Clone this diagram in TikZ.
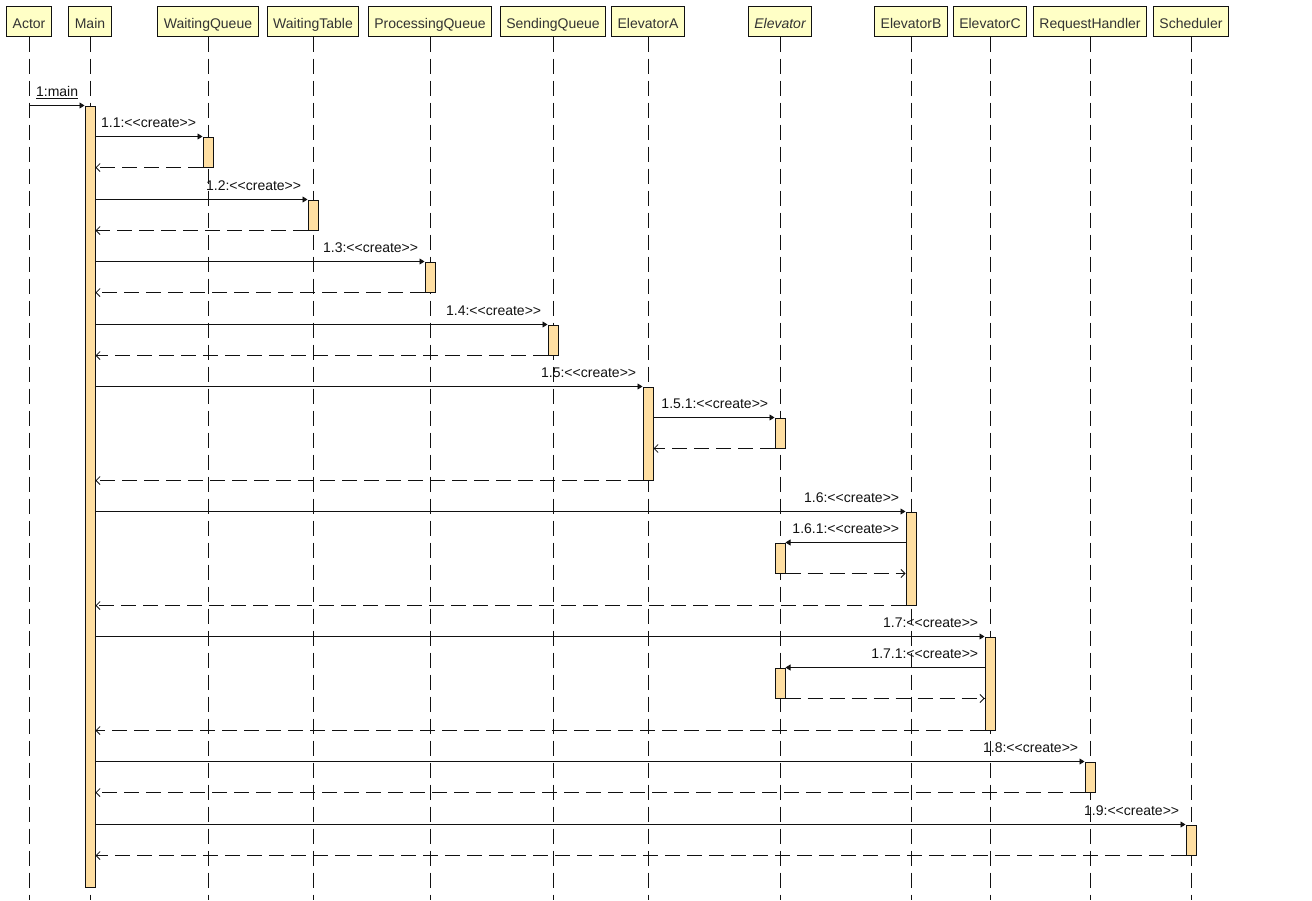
\documentclass[tikz,border=0pt]{standalone}
\usepackage{fontspec}
\setmainfont{Liberation Sans}[Ligatures=TeXOff]
\usetikzlibrary{arrows.meta}
\definecolor{ink}{HTML}{111111}
\definecolor{hdrtext}{HTML}{333333}
\definecolor{hdrbg}{HTML}{FFFFC6}
\definecolor{actbg}{HTML}{FFDFA2}
\tikzset{
  every node/.style={font=\fontsize{14}{16}\selectfont},
  hdr/.style={draw=ink, line width=1pt, fill=hdrbg, text=hdrtext, minimum height=30pt,
              inner xsep=6pt, inner ysep=0pt, text height=15pt, text depth=0pt},
  life/.style={draw=ink, line width=1pt, dash pattern=on 15pt off 7pt},
  act/.style={draw=ink, line width=1pt, fill=actbg, minimum width=10pt, inner sep=0pt},
  msg/.style={-{Triangle[length=5pt, width=6pt]}, line width=0.8pt, draw=ink},
  ret/.style={-{Straight Barb[length=4pt, width=8pt]}, line width=0.8pt, draw=ink,
              dash pattern=on 15pt off 7pt},
  lbl/.style={text=ink, inner sep=0pt, anchor=base east, xshift=-6pt, yshift=9pt},
}

\begin{document}
\begin{tikzpicture}[x=1pt, y=-1pt]
\useasboundingbox (0,0) rectangle (1312,900);

% lifeline heads
\node[hdr] (actor) at (29,21) {Actor};
\node[hdr] (main) at (90,21) {Main};
\node[hdr] (wq) at (208,21) {WaitingQueue};
\node[hdr] (wt) at (313,21) {WaitingTable};
\node[hdr] (pq) at (430,21) {ProcessingQueue};
\node[hdr] (sq) at (553,21) {SendingQueue};
\node[hdr] (ea) at (648,21) {ElevatorA};
\node[hdr] (elev) at (780,21) {\itshape Elevator};
\node[hdr] (eb) at (911,21) {ElevatorB};
\node[hdr] (ec) at (990,21) {ElevatorC};
\node[hdr] (rh) at (1090,21) {RequestHandler};
\node[hdr] (sch) at (1191,21) {Scheduler};

\foreach \n in {actor,main,wq,wt,pq,sq,ea,elev,eb,ec,rh,sch}
  \draw[life] (\n.south) -- (\n.south |- 0,900);

% activations
\node[act, minimum height=781] (mainAct) at (90,496.5) {};
\node[act, minimum height=30] (a11) at (208,152) {};
\node[act, minimum height=30] (a12) at (313,215) {};
\node[act, minimum height=30] (a13) at (430,277) {};
\node[act, minimum height=30] (a14) at (553,340) {};
\node[act, minimum height=93] (a15) at (648,433.5) {};
\node[act, minimum height=30] (a151) at (780,433) {};
\node[act, minimum height=93] (a16) at (911,558.5) {};
\node[act, minimum height=30] (a161) at (780,558) {};
\node[act, minimum height=93] (a17) at (990,683.5) {};
\node[act, minimum height=30] (a171) at (780,683) {};
\node[act, minimum height=30] (a18) at (1090,777) {};
\node[act, minimum height=30] (a19) at (1191,840) {};

% messages
\draw[msg] (actor |- mainAct.north) -- node[lbl, pos=1] {\underline{1:main}} (mainAct.north west);

\draw[msg] (mainAct.east |- a11.north) -- node[lbl, pos=1] {1.1:<<create>>} (a11.north west);
\draw[ret] (a11.south west) -- (mainAct.east |- a11.south);
\draw[msg] (mainAct.east |- a12.north) -- node[lbl, pos=1] {1.2:<<create>>} (a12.north west);
\draw[ret] (a12.south west) -- (mainAct.east |- a12.south);
\draw[msg] (mainAct.east |- a13.north) -- node[lbl, pos=1] {1.3:<<create>>} (a13.north west);
\draw[ret] (a13.south west) -- (mainAct.east |- a13.south);
\draw[msg] (mainAct.east |- a14.north) -- node[lbl, pos=1] {1.4:<<create>>} (a14.north west);
\draw[ret] (a14.south west) -- (mainAct.east |- a14.south);

\draw[msg] (mainAct.east |- a15.north) -- node[lbl, pos=1] {1.5:<<create>>} (a15.north west);
\draw[msg] (a15.east |- a151.north) -- node[lbl, pos=1] {1.5.1:<<create>>} (a151.north west);
\draw[ret] (a151.south west) -- (a15.east |- a151.south);
\draw[ret] (a15.south west) -- (mainAct.east |- a15.south);

\draw[msg] (mainAct.east |- a16.north) -- node[lbl, pos=1] {1.6:<<create>>} (a16.north west);
\draw[msg] (a16.west |- a161.north) -- node[lbl, pos=0] {1.6.1:<<create>>} (a161.north east);
\draw[ret] (a161.south east) -- (a16.west |- a161.south);
\draw[ret] (a16.south west) -- (mainAct.east |- a16.south);

\draw[msg] (mainAct.east |- a17.north) -- node[lbl, pos=1] {1.7:<<create>>} (a17.north west);
\draw[msg] (a17.west |- a171.north) -- node[lbl, pos=0] {1.7.1:<<create>>} (a171.north east);
\draw[ret] (a171.south east) -- (a17.west |- a171.south);
\draw[ret] (a17.south west) -- (mainAct.east |- a17.south);

\draw[msg] (mainAct.east |- a18.north) -- node[lbl, pos=1] {1.8:<<create>>} (a18.north west);
\draw[ret] (a18.south west) -- (mainAct.east |- a18.south);
\draw[msg] (mainAct.east |- a19.north) -- node[lbl, pos=1] {1.9:<<create>>} (a19.north west);
\draw[ret] (a19.south west) -- (mainAct.east |- a19.south);

\end{tikzpicture}
\end{document}
